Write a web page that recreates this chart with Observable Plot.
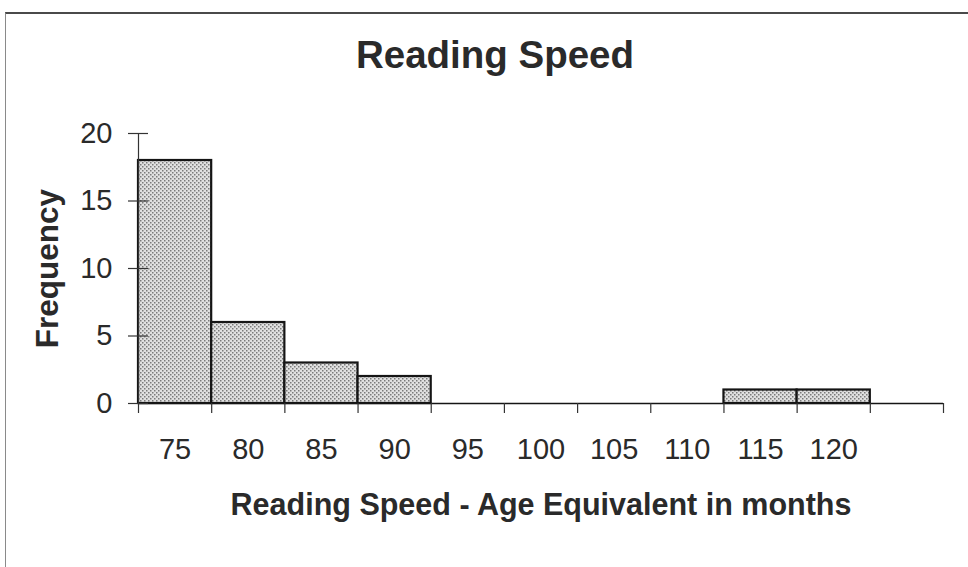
<!DOCTYPE html>
<html><head><meta charset="utf-8">
<script src="https://cdn.jsdelivr.net/npm/d3@7"></script>
<script src="https://cdn.jsdelivr.net/npm/@observablehq/plot@0.6"></script>
<style>
html,body{margin:0;padding:0;background:#fff;width:968px;height:567px;overflow:hidden;font-family:"Liberation Sans",Arial,sans-serif;}
#frame{position:absolute;left:5px;top:12px;width:1000px;height:553px;border-top:2px solid #4a4a4a;border-left:1.5px solid #8a8a8a;border-bottom:1px solid #dddddd;}
#title{position:absolute;left:0;width:990px;top:36px;text-align:center;font-size:38.5px;font-weight:bold;line-height:1;color:#2a2a2a;}
#chart{position:absolute;left:0;top:100px;}
</style></head><body>
<div id="frame"></div>
<div id="title">Reading Speed</div>
<div id="chart"></div>
<script>
// Data
const binCenters = [75, 80, 85, 90, 95, 100, 105, 110, 115, 120];
const frequency  = [18, 6, 3, 2, 0, 0, 0, 0, 1, 1];
const binWidth = 5;
const extraEmptyBins = 1;
const yTicks = [0, 5, 10, 15, 20];
const xLabel = "Reading Speed - Age Equivalent in months";
const yLabel = "Frequency";

const xDomain = [binCenters[0] - binWidth / 2, binCenters[binCenters.length - 1] + binWidth / 2 + extraEmptyBins * binWidth];
const edges = d3.range(0, binCenters.length + extraEmptyBins + 1).map(i => xDomain[0] + i * binWidth);
const bins = binCenters.map((c, i) => ({center: c, count: frequency[i]})).filter(d => d.count > 0);

const ink = "#2a2a2a";
const plot = Plot.plot({
  width: 968, height: 467,
  marginLeft: 138, marginRight: 25, marginTop: 33, marginBottom: 164,
  style: {fontFamily: "Liberation Sans, Arial, sans-serif", color: ink, background: "transparent", overflow: "visible"},
  x: {domain: xDomain},
  y: {domain: [0, 20]},
  marks: [
    Plot.rectY(bins, {x1: d => d.center - binWidth / 2, x2: d => d.center + binWidth / 2, y: "count",
      fill: "url(#dots)", stroke: "#151515", strokeWidth: 2.2}),
    Plot.ruleX([xDomain[0]], {stroke: "#333", strokeWidth: 1.2}),
    Plot.ruleY([0], {stroke: "#151515", strokeWidth: 1.6}),
    Plot.axisX(edges, {tickSize: 10, text: null, label: null, stroke: "#333", strokeWidth: 1.2}),
    Plot.axisX(binCenters, {tickSize: 0, tickPadding: 35, fontSize: 29, label: null, fill: ink}),
    Plot.axisY(yTicks, {tickSize: 20, dx: 10, text: null, label: null, stroke: "#333", strokeWidth: 1.2}),
    Plot.axisY(yTicks, {tickSize: 0, tickPadding: 26, fontSize: 29, label: null, fill: ink}),
    Plot.text([xLabel], {frameAnchor: "bottom", textAnchor: "middle", lineAnchor: "middle", dy: 102, fontSize: 30.5, fontWeight: "bold", fill: ink}),
    Plot.text([yLabel], {frameAnchor: "left", textAnchor: "middle", lineAnchor: "middle", rotate: -90, dx: -91, fontSize: 31.5, fontWeight: "bold", fill: ink})
  ]
});
plot.insertAdjacentHTML("afterbegin",
  `<defs><pattern id="dots" width="4" height="4" patternUnits="userSpaceOnUse">
     <rect width="4" height="4" fill="#e0e0e0"/>
     <rect x="0" y="0" width="1.5" height="1.5" fill="#7a7a7a"/>
     <rect x="2" y="2" width="1.5" height="1.5" fill="#7a7a7a"/>
   </pattern></defs>`);
document.getElementById("chart").appendChild(plot);
</script>
</body></html>
